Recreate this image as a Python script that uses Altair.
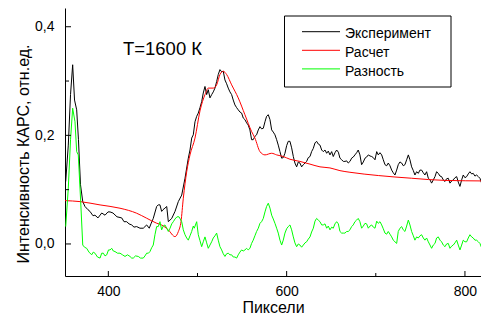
import altair as alt
import pandas as pd

# ---------------- data ----------------
exp_x = [352.2,355.1,357.6,360.0,362.1,364.5,366.5,368.8,371.3,373.8,
         377.2,379.4,382.8,385.0,388.4,392.6,396.3,399.6,401.9,405.2,
         409.7,415.0,417.6,420.6,423.2,426.2,428.8,431.8,435.5,439.2,
         443.0,445.9,447.8,450.4,454.2,456.0,457.9,459.8,461.3,463.5,
         465.5,467.3,469.2,471.1,474.8,478.5,482.3,486.0,489.7,491.6,
         493.5,495.3,497.2,499.1,500.9,502.8,504.7,506.5,508.4,510.3,
         512.1,514.0,515.9,517.7,519.6,521.5,523.3,525.2,527.1,528.9,
         530.8,532.7,534.5,536.4,538.3,540.1,542.0,543.9,545.7,547.6,
         549.5,551.3,553.2,555.1,556.9,558.8,
         560.7,562.5,564.4,566.3,568.2,570.1,571.9,573.8,575.7,577.5,
         579.4,581.3,583.2,585.0,586.9,588.8,590.6,592.5,594.4,596.2,
         598.1,600.0,601.8,603.7,605.6,607.5,609.3,611.2,613.1,614.9,
         616.8,618.7,620.6,622.4,624.3,626.2,628.0,629.9,631.8,633.6,
         635.5,637.4,639.3,641.1,643.0,644.9,646.7,648.6,650.5,652.3,
         654.2,656.1,658.0,659.8,661.7,663.6,665.4,667.3,669.1,671.0,
         672.9,674.7,676.6,678.5,680.3,682.2,684.1,686.0,687.9,689.7,
         691.6,693.5,695.4,697.2,699.1,701.0,702.8,704.7,706.6,708.4,
         710.3,712.2,714.0,715.9,717.8,719.6,721.5,723.4,725.2,727.1,
         729.0,730.8,732.7,734.6,736.5,738.3,740.2,742.1,743.9,745.8,
         747.7,749.5,751.4,753.3,755.1,757.0,758.9,760.8,762.6,764.5,
         766.4,768.2,770.1,772.0,773.8,775.7,777.6,779.4,781.3,783.2,
         785.1,786.9,788.8,790.7,792.5,794.4,796.3,798.1,800.0,801.9,
         803.7,805.6,807.5,809.3,811.2,813.1,815.0,816.8,818.7,820.6,
         822.4,824.3]
exp_y = [0.115,0.182,0.275,0.330,0.265,0.247,0.192,0.109,0.078,0.069,
         0.063,0.060,0.052,0.053,0.048,0.057,0.053,0.059,0.059,0.057,
         0.050,0.048,0.041,0.041,0.037,0.035,0.031,0.032,0.029,0.029,
         0.035,0.029,0.037,0.047,0.069,0.072,0.072,0.060,0.063,0.066,
         0.069,0.041,0.044,0.047,0.060,0.078,0.090,0.121,0.158,0.173,
         0.195,0.201,0.225,0.235,0.241,0.251,0.262,0.278,0.290,0.275,
         0.284,0.269,0.275,0.280,0.287,0.299,0.312,0.321,0.317,0.318,
         0.302,0.295,0.287,0.280,0.275,0.265,0.256,0.251,0.247,0.243,
         0.241,0.232,0.229,0.223,0.219,0.210,
         0.192,0.192,0.198,0.201,0.210,0.216,0.212,0.213,0.225,0.235,
         0.238,0.229,0.210,0.206,0.201,0.192,0.182,0.170,0.158,0.159,
         0.167,0.181,0.189,0.189,0.177,0.161,0.149,0.142,0.151,0.149,
         0.142,0.146,0.149,0.152,0.159,0.161,0.170,0.176,0.186,0.189,
         0.184,0.182,0.173,0.170,0.173,0.167,0.171,0.164,0.170,0.161,
         0.168,0.173,0.169,0.158,0.155,0.152,0.152,0.153,0.149,0.152,
         0.158,0.160,0.164,0.168,0.173,0.164,0.146,0.151,0.158,0.160,
         0.164,0.162,0.161,0.159,0.155,0.170,0.164,0.168,0.164,0.155,
         0.146,0.144,0.149,0.144,0.136,0.131,0.127,0.136,0.146,0.151,
         0.149,0.144,0.146,0.155,0.164,0.155,0.142,0.135,0.127,0.133,
         0.130,0.136,0.136,0.131,0.127,0.133,0.121,0.118,0.112,0.118,
         0.124,0.133,0.130,0.125,0.124,0.118,0.115,0.120,0.121,0.112,
         0.116,0.118,0.122,0.124,0.114,0.106,0.118,0.127,0.122,0.124,
         0.129,0.133,0.129,0.130,0.125,0.127,0.124,0.121,0.112,0.106,
         0.116,0.121]

calc_x = [351.4,368.2,390.7,413.1,431.8,443.0,454.2,459.8,467.3,474.8,
          478.5,481.5,484.1,487.9,491.6,497.2,502.8,508.4,512.1,517.7,
          521.5,525.2,528.9,532.7,538.3,545.7,553.2,560.7,564.4,570.1,
          575.7,583.2,588.8,596.2,603.7,614.9,626.2,637.4,648.6,659.8,
          671.0,702.8,740.2,777.6,824.3]
calc_y = [0.0798,0.078,0.0719,0.0658,0.0566,0.0474,0.0382,0.035,0.0258,0.0135,
          0.0227,0.0411,0.0842,0.133,0.164,0.195,0.245,0.275,0.287,0.287,
          0.293,0.312,0.318,0.312,0.293,0.269,0.238,0.207,0.195,0.170,
          0.164,0.167,0.164,0.161,0.156,0.152,0.147,0.142,0.140,0.135,
          0.132,0.126,0.121,0.117,0.116]

diff_x = [352.2,355.1,357.6,360.0,362.6,364.5,366.3,369.0,371.3,373.3,
          375.7,378.3,381.3,383.1,385.0,387.8,390.7,392.6,394.4,396.3,
          398.2,400.2,401.9,403.8,405.6,407.5,410.3,413.1,415.9,418.7,
          421.5,424.3,426.2,428.0,430.5,433.6,436.1,439.2,441.1,443.0,
          445.0,446.7,448.6,450.4,452.3,454.2,456.0,457.9,459.8,461.6,
          463.5,465.5,467.3,469.2,471.1,472.9,474.8,477.0,479.3,482.3,
          484.1,486.0,487.9,489.7,491.6,493.5,495.3,496.4,499.1,500.9,
          502.8,504.7,506.5,508.4,510.3,512.1,514.0,515.9,517.7,519.6,
          521.5,523.3,525.2,527.1,528.9,530.8,532.7,534.5,536.4,538.3,
          540.1,542.0,543.9,545.7,547.6,549.5,551.3,553.2,555.1,556.9,
          558.8,
          560.7,562.5,564.4,566.3,568.2,570.1,571.9,573.8,575.7,577.5,
          579.4,581.3,583.2,585.0,586.9,588.8,590.6,592.5,594.4,596.2,
          598.1,600.0,601.8,603.7,605.6,607.5,609.3,611.2,613.1,614.9,
          616.8,618.7,620.6,622.4,624.3,626.2,628.0,629.9,631.8,633.6,
          635.5,637.4,639.3,641.1,643.0,644.9,646.7,648.6,650.5,652.3,
          654.2,656.1,658.0,659.8,661.7,663.6,665.4,667.3,669.1,671.0,
          672.9,674.7,676.6,678.5,680.3,682.2,684.1,686.0,687.9,689.7,
          691.6,693.5,695.4,697.2,699.1,701.0,702.8,704.7,706.6,708.4,
          710.3,712.2,714.0,715.9,717.8,719.6,721.5,723.4,725.2,727.1,
          729.0,730.8,732.7,734.6,736.5,738.3,740.2,742.1,743.9,745.8,
          747.7,749.5,751.4,753.3,755.1,757.0,758.9,760.8,762.6,764.5,
          766.4,768.2,770.1,772.0,773.8,775.7,777.6,779.4,781.3,783.2,
          785.1,786.9,788.8,790.7,792.5,794.4,796.3,798.1,800.0,801.9,
          803.7,805.6,807.5,809.3,811.2,813.1,815.0,816.8,818.7,820.6,
          822.4,824.3]
diff_y = [0.032,0.103,0.192,0.250,0.225,0.170,0.164,0.078,-0.002,-0.006,
          -0.008,-0.015,-0.020,-0.015,-0.017,-0.024,-0.026,-0.017,-0.017,-0.022,
          -0.020,-0.011,-0.011,-0.008,-0.013,-0.014,-0.017,-0.017,-0.020,-0.023,
          -0.020,-0.023,-0.026,-0.026,-0.022,-0.023,-0.026,-0.026,-0.022,-0.017,
          -0.017,-0.014,-0.007,-0.002,0.017,0.032,0.032,0.041,0.026,0.033,
          0.035,0.029,0.023,0.029,0.037,0.041,0.046,0.050,0.050,0.041,
          0.026,0.017,0.011,0.007,0.015,0.023,0.033,0.029,0.041,0.017,
          0.006,-0.005,0.004,0.013,0.002,-0.008,-0.002,0.004,0.011,0.015,
          0.020,0.007,-0.005,-0.011,-0.018,-0.023,-0.018,-0.017,-0.020,-0.020,
          -0.024,-0.024,-0.026,-0.020,-0.015,-0.011,-0.013,-0.011,-0.008,-0.011,
          -0.008,
          0.001,0.007,0.015,0.023,0.029,0.038,0.041,0.047,0.059,0.069,
          0.075,0.066,0.053,0.046,0.038,0.029,0.020,0.007,-0.002,0.007,
          0.020,0.028,0.032,0.035,0.026,0.013,0.002,-0.005,0.000,-0.002,
          -0.006,-0.002,0.002,0.004,0.009,0.013,0.022,0.029,0.042,0.047,
          0.044,0.041,0.035,0.035,0.037,0.029,0.033,0.026,0.031,0.029,
          0.037,0.041,0.037,0.023,0.020,0.020,0.020,0.023,0.023,0.026,
          0.032,0.035,0.041,0.044,0.047,0.041,0.029,0.033,0.038,0.037,
          0.029,0.033,0.035,0.031,0.029,0.042,0.038,0.041,0.035,0.028,
          0.020,0.018,0.023,0.018,0.013,0.007,0.004,0.001,0.023,0.029,
          0.032,0.026,0.023,0.033,0.044,0.035,0.023,0.015,0.007,0.013,
          0.011,0.015,0.017,0.011,0.007,0.011,0.004,-0.002,-0.008,-0.002,
          0.001,0.011,0.013,0.007,0.004,-0.002,-0.005,0.000,0.001,-0.008,
          -0.004,-0.002,0.002,0.007,-0.002,-0.011,-0.002,0.007,0.004,0.004,
          0.011,0.017,0.013,0.011,0.007,0.007,0.004,0.001,-0.007,-0.014,
          -0.006,-0.002]

series_names = ["Эксперимент", "Расчет", "Разность"]
series_colors = ["#000000", "#ff0000", "#00ff00"]
annotation = "T=1600 К"
x_title = "Пиксели"
y_title = "Интенсивность КАРС, отн.ед."
x_major = [400, 600, 800]
x_minor = [500, 700]
y_major = [0.0, 0.2, 0.4]
y_minor = [0.1, 0.3]

assert len(exp_x) == len(exp_y)
assert len(calc_x) == len(calc_y)
assert len(diff_x) == len(diff_y)

# ---------------- chart ----------------
FONT = "Liberation Sans"
W, H = 416, 268
xs = alt.Scale(domain=[351.4, 818.0], nice=False, zero=False)
ys = alt.Scale(domain=[-0.059, 0.4345], nice=False, zero=False)

x_axis = alt.Axis(title=x_title, values=x_major, format="d", tickSize=0,
                  labelPadding=8, labelFontSize=14, titleFontSize=16,
                  titleFontWeight="normal", titleY=36.5, titleBaseline="alphabetic",
                  grid=False)
y_axis = alt.Axis(title=y_title, values=y_major, tickSize=0, labelPadding=11,
                  labelExpr="replace(format(datum.value, '.1f'), '.', ',')",
                  labelFontSize=14, titleFontSize=16, titleFontWeight="normal",
                  titleAngle=270, titleX=-37, titleY=145.5, titleAlign="center",
                  titleBaseline="alphabetic", grid=False)


def X(field):
    return alt.X(f"{field}:Q", scale=xs, axis=x_axis)


def Y(field):
    return alt.Y(f"{field}:Q", scale=ys, axis=y_axis)


df_exp = pd.DataFrame({"x": exp_x, "y": exp_y})
df_calc = pd.DataFrame({"x": calc_x, "y": calc_y})
df_diff = pd.DataFrame({"x": diff_x, "y": diff_y})

l_exp = alt.Chart(df_exp).mark_line(color=series_colors[0], strokeWidth=1, clip=True).encode(x=X("x"), y=Y("y"))
l_calc = alt.Chart(df_calc).mark_line(color=series_colors[1], strokeWidth=1, clip=True,
                                      interpolate="monotone").encode(x=X("x"), y=Y("y"))
l_diff = alt.Chart(df_diff).mark_line(color=series_colors[2], strokeWidth=1, clip=True).encode(x=X("x"), y=Y("y"))

yt_major = alt.Chart(pd.DataFrame({"v": y_major})).mark_rule(color="black").encode(
    y=Y("v"), x=alt.value(0), x2=alt.value(6))
yt_minor = alt.Chart(pd.DataFrame({"v": y_minor})).mark_rule(color="black").encode(
    y=Y("v"), x=alt.value(0), x2=alt.value(4))
xt_major = alt.Chart(pd.DataFrame({"v": x_major})).mark_rule(color="black").encode(
    x=X("v"), y=alt.value(H), y2=alt.value(H - 5))
xt_minor = alt.Chart(pd.DataFrame({"v": x_minor})).mark_rule(color="black").encode(
    x=X("v"), y=alt.value(H), y2=alt.value(H - 3))

ann = alt.Chart(pd.DataFrame({"t": [annotation]})).mark_text(
    font=FONT, fontSize=18.5, align="center", baseline="alphabetic", color="black"
).encode(text="t:N", x=alt.value(97.5), y=alt.value(47))

frame = alt.Chart(pd.DataFrame({"a": [0]})).mark_rect(
    fill="white", stroke="black", strokeWidth=1
).encode(x=alt.value(219.5), x2=alt.value(386), y=alt.value(8), y2=alt.value(79))

legend_layers = [frame]
for i, (name, col) in enumerate(zip(series_names, series_colors)):
    ly = 23.7 + 18.6 * i
    ty = 30.3 + 18.7 * i
    legend_layers.append(
        alt.Chart(pd.DataFrame({"a": [0]})).mark_rule(color=col, strokeWidth=1).encode(
            x=alt.value(237), x2=alt.value(275), y=alt.value(ly))
    )
    legend_layers.append(
        alt.Chart(pd.DataFrame({"t": [name]})).mark_text(
            font=FONT, fontSize=14, align="left", baseline="alphabetic", color="black"
        ).encode(text="t:N", x=alt.value(280), y=alt.value(ty))
    )

chart = alt.layer(
    l_exp, l_calc, l_diff, yt_major, yt_minor, xt_major, xt_minor, ann, *legend_layers
).properties(
    width=W, height=H,
    padding={"left": 57, "top": 0, "right": 0, "bottom": 40},
    autosize=alt.AutoSizeParams(type="none"),
).configure_view(stroke=None).configure_axis(
    labelFont=FONT, titleFont=FONT, labelColor="black", titleColor="black",
    domainColor="black", domainWidth=1
)

chart.save("out.html", embed_options={"renderer": "svg", "actions": False})
